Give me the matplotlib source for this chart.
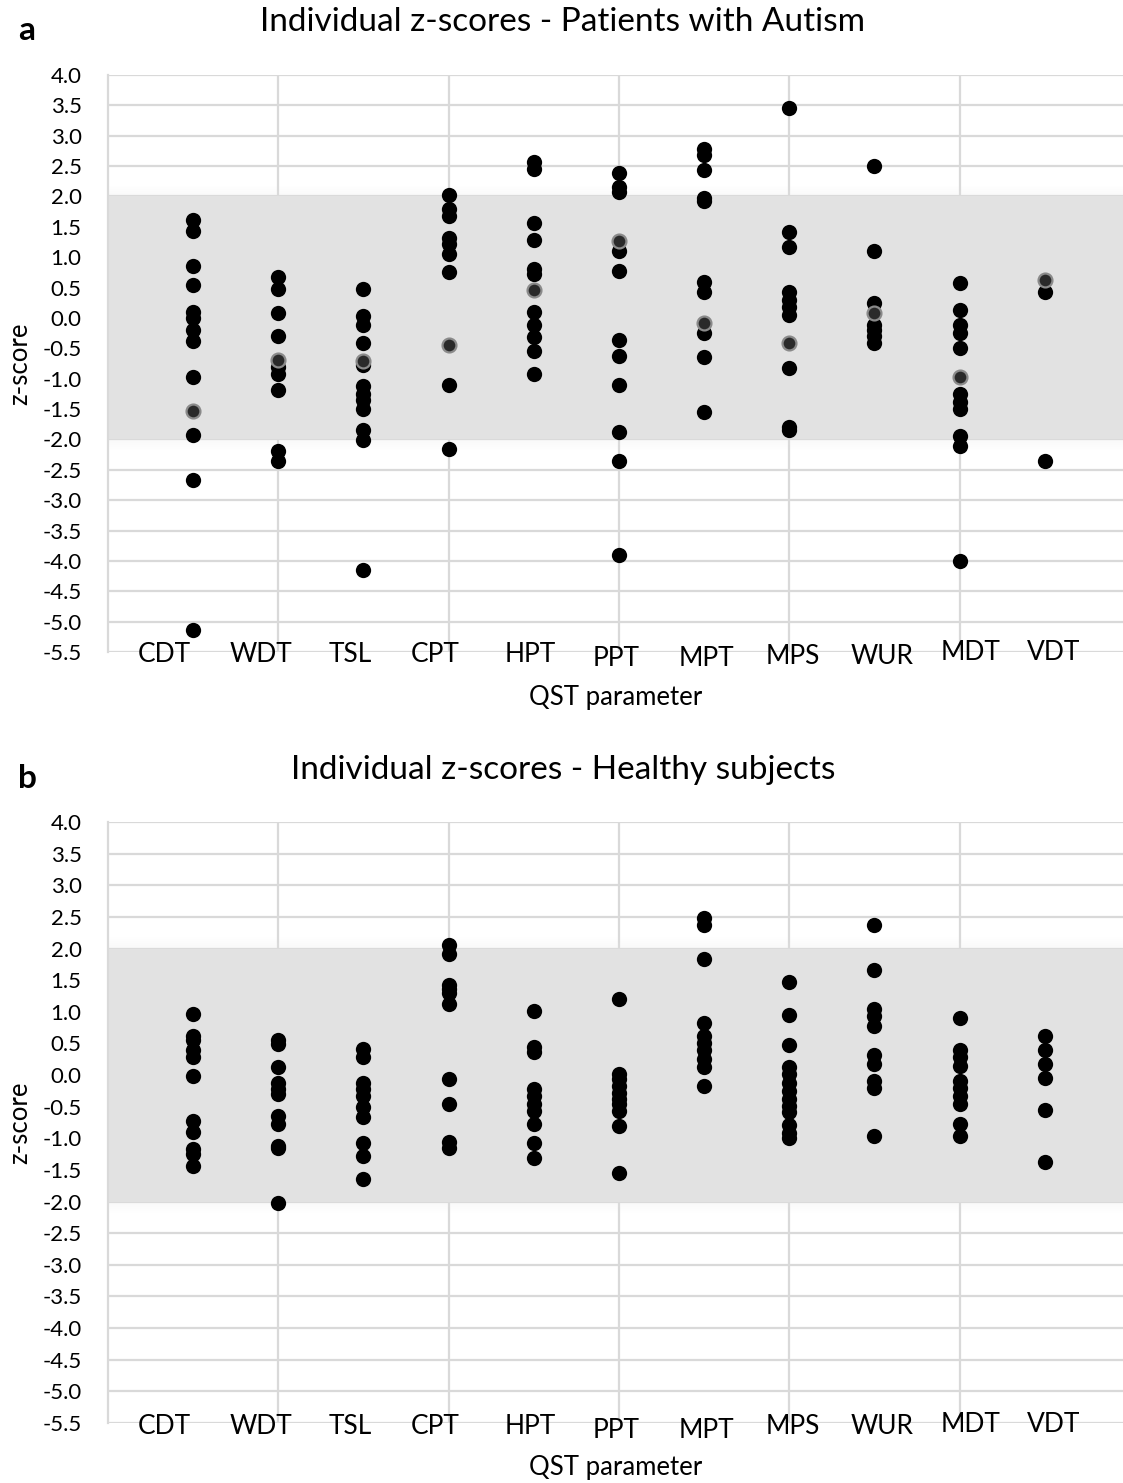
import matplotlib
matplotlib.use("Agg")
import matplotlib.pyplot as plt
from matplotlib.transforms import blended_transform_factory

plt.rcParams["font.family"] = ["Lato", "DejaVu Sans"]

GRID = "#d9d9d9"
BAND = "#e2e2e2"

params = ["CDT", "WDT", "TSL", "CPT", "HPT", "PPT", "MPT", "MPS", "WUR", "MDT", "VDT"]

# ---------- panel a: patients with autism ----------
autism_z = [
    [1.62, 1.43, 0.86, 0.54, 0.1, 0.0, -0.2, -0.38, -0.98, -1.93, -2.67, -5.13],   # CDT
    [0.68, 0.48, 0.08, -0.29, -0.81, -0.93, -1.19, -2.19, -2.36],                 # WDT
    [0.47, 0.03, -0.11, -0.41, -0.78, -1.12, -1.25, -1.35, -1.5, -1.85, -2.01, -4.15],  # TSL
    [2.02, 1.8, 1.68, 1.32, 1.22, 1.06, 0.76, -1.11, -2.15],                      # CPT
    [2.57, 2.46, 1.57, 1.29, 0.81, 0.72, 0.09, -0.11, -0.31, -0.54, -0.92],       # HPT
    [2.38, 2.15, 2.08, 1.1, 0.78, -0.36, -0.63, -1.1, -1.87, -2.36, -3.91],       # PPT
    [2.78, 2.68, 2.43, 1.98, 1.93, 0.6, 0.43, -0.25, -0.64, -1.55],               # MPT
    [3.46, 1.41, 1.16, 0.43, 0.3, 0.18, 0.05, -0.83, -1.79, -1.85],               # MPS
    [2.5, 1.11, 0.24, -0.11, -0.2, -0.3, -0.41],                                   # WUR
    [0.58, 0.13, -0.11, -0.24, -0.5, -1.25, -1.38, -1.5, -1.95, -2.11, -4.0],      # MDT
    [0.43, -2.36],                                                                 # VDT
]
# points drawn in a lighter shade (overlapping second series)
autism_grey_z = [[-1.54], [-0.69], [-0.71], [-0.45], [0.46], [1.27], [-0.08], [-0.41], [0.08], [-0.97], [0.63]]

# ---------- panel b: healthy subjects ----------
healthy_z = [
    [0.97, 0.62, 0.55, 0.39, 0.28, -0.01, -0.72, -0.9, -1.17, -1.25, -1.44],      # CDT
    [0.56, 0.49, 0.12, -0.12, -0.22, -0.3, -0.65, -0.78, -1.12, -1.15, -2.03],    # WDT
    [0.41, 0.28, -0.12, -0.22, -0.33, -0.51, -0.67, -1.07, -1.28, -1.64],         # TSL
    [2.05, 1.92, 1.42, 1.36, 1.29, 1.13, -0.06, -0.46, -1.06, -1.15],             # CPT
    [1.01, 0.44, 0.36, -0.22, -0.33, -0.46, -0.57, -0.78, -1.08, -1.31],          # HPT
    [1.2, 0.02, -0.06, -0.17, -0.28, -0.38, -0.46, -0.57, -0.81, -1.55],          # PPT
    [2.49, 2.37, 1.83, 0.83, 0.62, 0.5, 0.39, 0.25, 0.12, -0.18],                 # MPT
    [1.47, 0.95, 0.47, 0.12, 0.02, -0.12, -0.25, -0.38, -0.49, -0.59, -0.79, -0.91, -1.0],  # MPS
    [2.37, 1.66, 1.05, 0.94, 0.78, 0.31, 0.17, -0.09, -0.2, -0.97],               # WUR
    [0.9, 0.39, 0.28, 0.15, -0.09, -0.21, -0.33, -0.46, -0.78, -0.96],            # MDT
    [0.62, 0.39, 0.17, -0.05, -0.55, -1.38],                                      # VDT
]
healthy_grey_z = [[] for _ in params]

yticks = [4.0 - 0.5 * i for i in range(20)]
# label positions (x in category units), Excel put them by hand
label_x = [0.66, 1.8, 2.84, 3.84, 4.96, 5.97, 7.03, 8.04, 9.09, 10.13, 11.11]
label_dy = [0, 0, 0, 0, 0, 4, 4, 1, 1, -2, -2]   # pixels down


def draw_panel(fig, ax, values, grey, title, letter, px_top, px_bottom, px_title, px_xlab):
    H = 1483
    ax.set_xlim(0, 11.92)
    ax.set_ylim(-5.5, 4.0)
    ax.set_yticks(yticks)
    ax.set_yticklabels([f"{t:.1f}" for t in yticks], fontsize=16)
    ax.set_xticks([2, 4, 6, 8, 10])
    ax.set_xticklabels([])
    ax.tick_params(length=0, pad=19)
    ax.set_axisbelow(True)
    ax.grid(True, color=GRID, linewidth=1.6)
    for s in ["top", "right", "bottom"]:
        ax.spines[s].set_visible(False)
    ax.spines["left"].set_color(GRID)
    ax.spines["left"].set_linewidth(1.6)

    # normal range band with soft edge
    ax.axhspan(-2.0, 2.0, color=BAND, lw=0, zorder=1)
    for i in range(6):
        a = 0.18 * (1 - i / 6)
        ax.axhspan(2.0 + i * 0.03, 2.0 + (i + 1) * 0.03, color=BAND, alpha=a, lw=0, zorder=1)
        ax.axhspan(-2.0 - (i + 1) * 0.03, -2.0 - i * 0.03, color=BAND, alpha=a, lw=0, zorder=1)

    for k, vals in enumerate(values):
        ax.plot([k + 1] * len(vals), vals, "o", color="black", ms=11, mew=0, zorder=3)
    for k, vals in enumerate(grey):
        if vals:
            ax.plot([k + 1] * len(vals), vals, "o", mfc="#2a2a2a", mec="#8a8a8a",
                    ms=10, mew=1.6, zorder=4)

    tr = blended_transform_factory(ax.transData, fig.transFigure)
    for name, x, dy in zip(params, label_x, label_dy):
        ax.text(x, 1 - (px_bottom + 3 + dy) / H, name, transform=tr, ha="center", va="center",
                fontsize=19, clip_on=False)

    fig.text(20 / 1123, 1 - (px_top + px_bottom) / 2 / H, "z-score", fontsize=18.5,
             rotation=90, ha="center", va="center")
    fig.text(616 / 1123, 1 - px_xlab / H, "QST parameter", fontsize=18.5, ha="center", va="center")
    fig.text(563 / 1123, 1 - px_title / H, title, fontsize=24, ha="center", va="center")
    fig.text(0.016, 1 - (px_title + 8) / H, letter, fontsize=24, fontweight="bold", va="center")


fig = plt.figure(figsize=(11.23, 14.83), dpi=100)
ax_a = fig.add_axes([108 / 1123, 1 - 652 / 1483, 1 - 108 / 1123, (652 - 75) / 1483])
ax_b = fig.add_axes([108 / 1123, 1 - 1423 / 1483, 1 - 108 / 1123, (1423 - 822) / 1483])

draw_panel(fig, ax_a, autism_z, autism_grey_z, "Individual z-scores - Patients with Autism", "a", 75, 652, 22, 697)
draw_panel(fig, ax_b, healthy_z, healthy_grey_z, "Individual z-scores - Healthy subjects", "b", 822, 1423, 770, 1468)

fig.savefig("out.png", dpi=100, facecolor="white")
